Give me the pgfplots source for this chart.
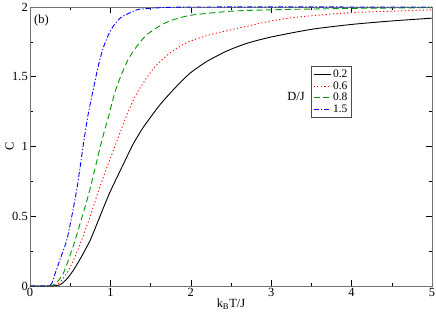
\documentclass[border=0pt]{standalone}
\usepackage{fontspec}
\setmainfont{Liberation Serif}
\usepackage{pgfplots}
\pgfplotsset{compat=1.18}
\definecolor{ggreen}{RGB}{0,150,0}
\begin{document}
\begin{tikzpicture}
\begin{axis}[
  scale only axis, width=402bp, height=279bp,
  xmin=0, xmax=5, ymin=0, ymax=2,
  xtick={0,1,2,3,4,5}, ytick={0,0.5,1,1.5,2},
  minor x tick num=1, minor y tick num=1,
  tick align=inside, major tick length=6bp, minor tick length=3bp,
  axis line style={draw=black!55, line width=0.8pt},
  tick style={black, line width=0.6pt},
  font=\fontsize{12.5}{13}\selectfont,
  /pgf/number format/assume math mode=true,
  yticklabel style={inner sep=1bp, xshift=-1bp},
  xticklabel style={inner sep=1bp, yshift=-1bp},
  xlabel={k\textsubscript{B}T/J},
  ylabel={C},
  xlabel style={yshift=2bp},
  ylabel style={yshift=-6bp},
  legend style={at={(rel axis cs:0.70,0.787)}, anchor=north west, draw=black!70, line width=0.5pt, font=\fontsize{11.5}{11.5}\selectfont, inner sep=1.5bp, row sep=-1.5bp, legend cell align=left},
  legend image post style={line width=0.9pt},
  legend image code/.code={\draw[#1] (0cm,0cm) -- (0.6cm,0cm);},
]
\addplot[black, line width=0.9pt, smooth, tension=0.4] coordinates {
(0,0)(0.2,0)(0.3,0.002)(0.37,0.008)(0.45,0.045)(0.54,0.113)(0.65,0.22)(0.75,0.33)(0.85,0.47)(0.92,0.57)(1.0,0.68)(1.1,0.80)(1.2,0.92)(1.285,1.02)(1.4,1.13)(1.5,1.21)(1.617,1.30)(1.74,1.38)(1.87,1.46)(2.0,1.53)(2.2,1.61)(2.45,1.685)(2.7,1.74)(3.0,1.785)(3.5,1.84)(4,1.875)(4.5,1.90)(5,1.92)};
\addlegendentry{0.2}
\addplot[red, line width=0.9pt, smooth, tension=0.4, dash pattern=on 1.2bp off 2.4bp] coordinates {
(0,0)(0.2,0)(0.28,0.002)(0.35,0.015)(0.42,0.06)(0.48,0.113)(0.56,0.21)(0.64,0.326)(0.75,0.50)(0.85,0.68)(0.95,0.84)(1.078,1.035)(1.2,1.22)(1.327,1.38)(1.53,1.555)(1.74,1.67)(1.95,1.745)(2.2,1.795)(2.45,1.83)(3.0,1.9)(3.36,1.93)(4,1.96)(4.5,1.97)(5,1.98)};
\addlegendentry{0.6}
\addplot[ggreen, line width=0.9pt, smooth, tension=0.4, dash pattern=on 6bp off 3.5bp] coordinates {
(0,0)(0.2,0)(0.28,0.005)(0.34,0.03)(0.41,0.085)(0.48,0.19)(0.56,0.326)(0.65,0.50)(0.74,0.68)(0.89,1.035)(0.97,1.2)(1.057,1.39)(1.14,1.52)(1.223,1.626)(1.33,1.72)(1.45,1.80)(1.6,1.86)(1.74,1.90)(1.99,1.94)(2.5,1.97)(3,1.98)(4,1.99)(5,1.995)};
\addlegendentry{0.8}
\addplot[blue, line width=0.9pt, smooth, tension=0.4, dash pattern=on 5bp off 2bp on 1.2bp off 2bp] coordinates {
(0,0)(0.2,0)(0.25,0.005)(0.28,0.03)(0.31,0.085)(0.38,0.2)(0.456,0.326)(0.52,0.5)(0.59,0.72)(0.665,1.02)(0.72,1.22)(0.78,1.39)(0.85,1.58)(0.912,1.709)(1.0,1.83)(1.12,1.92)(1.33,1.98)(1.5,1.99)(2,2.0)(5,2.0)};
\addlegendentry{1.5}
\node[anchor=north west, inner sep=0pt] at ([shift={(4bp,-8bp)}]rel axis cs:0,1) {(b)};
\node[anchor=center, inner sep=0pt] at (axis cs:3.31,1.36) {D/J};
\coordinate (ll) at (rel axis cs:0,0);
\coordinate (ur) at (rel axis cs:1,1);
\end{axis}
\pgfresetboundingbox
\path ([shift={(-30bp,-28bp)}]ll) rectangle ([shift={(4bp,7bp)}]ur);
\end{tikzpicture}
\end{document}
